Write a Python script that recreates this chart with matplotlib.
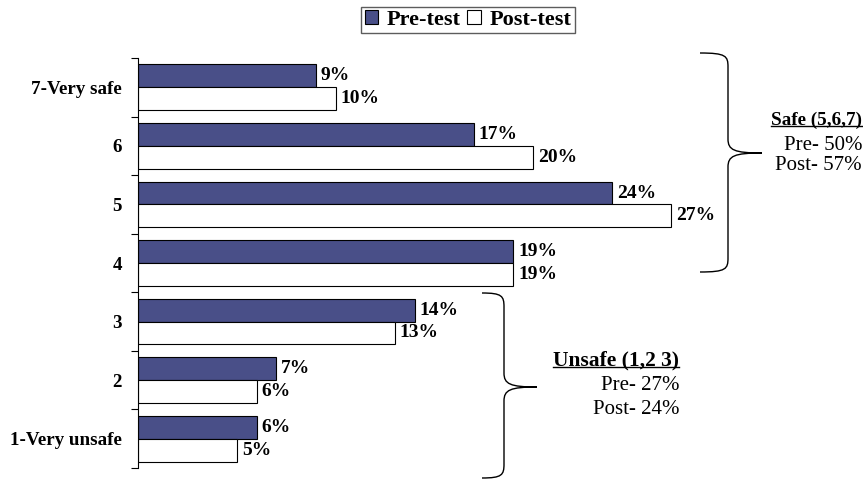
import matplotlib
matplotlib.use("Agg")
import matplotlib.pyplot as plt
import numpy as np
from matplotlib.path import Path
from matplotlib.patches import PathPatch

plt.rcParams['font.family'] = ['Liberation Serif', 'DejaVu Serif']

categories = ["1-Very unsafe", "2", "3", "4", "5", "6", "7-Very safe"]
pre_test = [6, 7, 14, 19, 24, 17, 9]
post_test = [5, 6, 13, 19, 27, 20, 10]

safe_text = ["Safe (5,6,7)", "Pre- 50%", "Post- 57%"]
unsafe_text = ["Unsafe (1,2 3)", "Pre- 27%", "Post- 24%"]

W, H = 863, 483
navy = "#494f88"

fig = plt.figure(figsize=(W / 100, H / 100), dpi=100)
ax = fig.add_axes([138 / W, 15 / H, 592.5 / W, 410 / H])

y = np.arange(len(categories))
bh = 0.39
ax.barh(y + bh / 2, pre_test, height=bh, color=navy, edgecolor="black",
        linewidth=0.8, label="Pre-test")
ax.barh(y - bh / 2, post_test, height=bh, color="white", edgecolor="black",
        linewidth=0.8, label="Post-test")

for i in range(len(categories)):
    ax.text(pre_test[i] + 0.25, y[i] + bh / 2, f"{pre_test[i]}%", va="center",
            ha="left", fontsize=14, fontweight="bold")
    ax.text(post_test[i] + 0.25, y[i] - bh / 2, f"{post_test[i]}%", va="center",
            ha="left", fontsize=14, fontweight="bold")

ax.set_xlim(0, 30)
ax.set_ylim(-0.5, len(categories) - 0.5)
ax.set_xticks([])
ax.set_yticks(np.arange(len(categories) + 1) - 0.5)
ax.set_yticklabels([])
ax.set_yticks(y, minor=True)
ax.set_yticklabels(categories, minor=True, fontsize=13.7, fontweight="bold")
ax.tick_params(axis="y", which="major", length=5, width=0.8, direction="out")
ax.tick_params(axis="y", which="minor", length=0, pad=11.5)
for s in ["top", "right", "bottom"]:
    ax.spines[s].set_visible(False)
ax.spines["left"].set_linewidth(0.8)

leg = fig.legend(loc="center", bbox_to_anchor=(468 / W, 1 - 20 / H), ncol=2,
                 frameon=True, fancybox=False, edgecolor="#333333",
                 prop={"weight": "bold", "size": 16}, handlelength=0.6,
                 handleheight=0.6, handletextpad=0.4, columnspacing=0.3,
                 borderpad=0.15, borderaxespad=0)
leg.get_frame().set_linewidth(1.0)


def brace(xl, ytop, ybot, xv, xt, ymid):
    # pixel coords (y down) -> inches
    def p(x, yy):
        return (x / 100, (H - yy) / 100)
    r = 14
    verts = [p(xl, ytop),
             p(xv - 2, ytop), p(xv, ytop + 3), p(xv, ytop + r),
             p(xv, ymid - r),
             p(xv, ymid - 3), p(xv + 6, ymid), p(xt, ymid),
             p(xv + 6, ymid), p(xv, ymid + 3), p(xv, ymid + r),
             p(xv, ybot - r),
             p(xv, ybot - 3), p(xv - 2, ybot), p(xl, ybot)]
    codes = [Path.MOVETO,
             Path.CURVE4, Path.CURVE4, Path.CURVE4,
             Path.LINETO,
             Path.CURVE4, Path.CURVE4, Path.CURVE4,
             Path.CURVE4, Path.CURVE4, Path.CURVE4,
             Path.LINETO,
             Path.CURVE4, Path.CURVE4, Path.CURVE4]
    fig.add_artist(PathPatch(Path(verts, codes), facecolor="none",
                             edgecolor="black", linewidth=1.0,
                             transform=fig.dpi_scale_trans))


brace(700, 53, 272, 728, 762, 153)
brace(482, 293, 478, 504, 537, 387)


def block(lines, xr, ys, head_size):
    t = fig.text(xr / W, 1 - ys[0] / H, lines[0], ha="right", va="center",
                 fontsize=head_size, fontweight="bold")
    for txt, yy in zip(lines[1:], ys[1:]):
        fig.text(xr / W, 1 - yy / H, txt, ha="right", va="center", fontsize=15)
    return t


t1 = block(safe_text, 862, [120, 146, 166], 13.8)
t2 = block(unsafe_text, 679, [360, 385, 410], 15.5)

fig.canvas.draw()
r = fig.canvas.get_renderer()
for t in (t1, t2):
    bb = t.get_window_extent(r).transformed(fig.transFigure.inverted())
    fig.add_artist(plt.Line2D([bb.x0, bb.x1], [bb.y0 + 0.006, bb.y0 + 0.006],
                              color="black", linewidth=1.0,
                              transform=fig.transFigure))

fig.savefig("out.png", dpi=100)
